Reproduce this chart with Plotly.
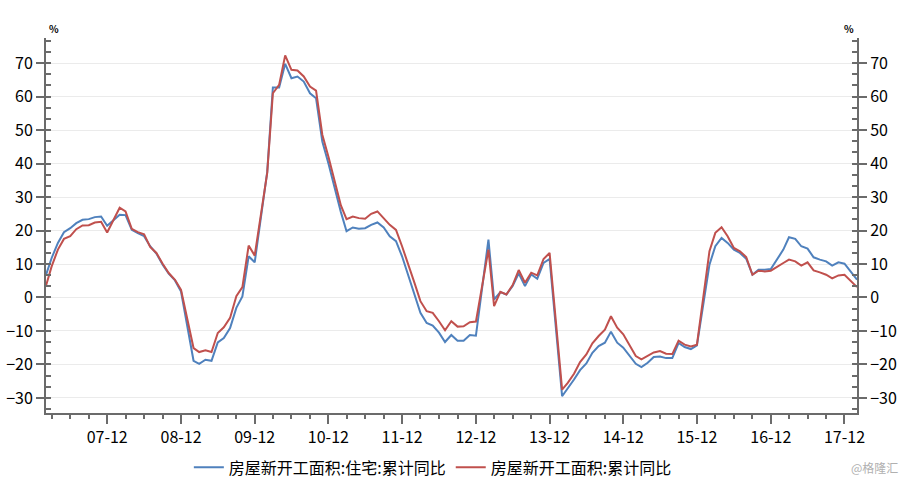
import plotly.graph_objects as go

# Monthly observations (Jan-Feb reported together -> no January point)
dates = [f"{y}-{m:02d}-01" for y in range(2007, 2018) for m in range(2, 13)] + ["2018-02-01"]

residential = [
    6.7, 11.8, 16.3, 19.5, 20.7, 22.2, 23.2, 23.4, 24.0, 24.2, 21.4,        # 2007
    24.7, 24.6, 20.2, 19.2, 18.3, 15.3, 13.1, 9.8, 7.1, 5.1, 1.8,            # 2008
    -18.9, -19.8, -18.6, -18.9, -13.4, -12.1, -9.1, -3.1, 0.3, 12.3, 10.5,   # 2009
    37.5, 62.7, 62.7, 69.8, 65.5, 66.0, 64.5, 61.0, 59.5, 46.6, 40.1,        # 2010
    25.5, 19.8, 20.9, 20.5, 20.7, 21.7, 22.4, 20.9, 18.3, 16.8, 12.3,        # 2011
    0.3, -4.6, -7.6, -8.4, -10.5, -13.3, -11.2, -12.9, -12.9, -11.2, -11.4,  # 2012
    17.3, -0.6, 1.6, 0.9, 3.4, 7.2, 3.4, 6.9, 5.6, 10.3, 11.5,               # 2013
    -29.5, -27.3, -24.5, -21.7, -19.7, -16.5, -14.5, -13.5, -10.2, -13.5, -15.0,  # 2014
    -19.8, -20.8, -19.5, -17.8, -17.6, -18.1, -18.1, -13.6, -14.8, -15.4, -14.3,  # 2015
    9.8, 15.3, 17.8, 16.3, 14.3, 13.3, 11.6, 6.8, 8.3, 8.3, 8.5,              # 2016
    14.3, 18.0, 17.5, 15.3, 14.6, 12.0, 11.3, 10.8, 9.5, 10.5, 10.1,          # 2017
    5.3,                                                                      # 2018
]

total = [
    3.5, 9.3, 14.3, 17.5, 18.3, 20.4, 21.5, 21.6, 22.4, 22.6, 19.4,          # 2007
    26.8, 25.7, 20.5, 19.5, 18.9, 15.1, 13.3, 10.1, 7.3, 5.3, 2.3,           # 2008
    -15.1, -16.3, -15.8, -16.3, -10.6, -8.9, -6.1, 0.4, 3.1, 15.5, 12.5,     # 2009
    37.2, 61.0, 63.5, 72.3, 68.0, 67.8, 66.0, 63.0, 61.8, 48.6, 42.1,        # 2010
    27.5, 23.4, 24.2, 23.7, 23.5, 25.0, 25.7, 23.7, 21.7, 20.2, 15.3,        # 2011
    4.3, -1.1, -4.1, -4.6, -7.1, -9.8, -7.1, -8.7, -8.6, -7.4, -7.2,         # 2012
    14.3, -2.6, 1.7, 0.9, 3.7, 8.2, 4.4, 7.4, 6.6, 11.5, 13.3,               # 2013
    -27.5, -25.5, -22.8, -19.3, -17.0, -13.7, -11.5, -9.6, -5.6, -9.0, -11.0,  # 2014
    -17.5, -18.5, -17.3, -16.4, -16.0, -16.8, -16.9, -12.9, -14.1, -14.6, -14.1,  # 2015
    13.8, 19.3, 21.0, 18.3, 14.8, 13.8, 12.1, 6.8, 8.0, 7.8, 8.0,            # 2016
    10.3, 11.3, 10.8, 9.5, 10.5, 8.1, 7.5, 6.8, 5.7, 6.6, 6.8,               # 2017
    3.1,                                                                      # 2018
]

series_names = ["房屋新开工面积:住宅:累计同比", "房屋新开工面积:累计同比"]
series_colors = ["#4f81bd", "#c0504d"]

major_tick_dates = [f"{y}-12-01" for y in range(2007, 2018)]
major_tick_labels = ["07-12", "08-12", "09-12", "10-12", "11-12", "12-12",
                     "13-12", "14-12", "15-12", "16-12", "17-12"]
minor_tick_dates = [f"{y}-{m:02d}-01" for y in range(2007, 2018) for m in (3, 6, 9)]

y_range = [-34.5, 77.5]
font_family = "Noto Sans CJK SC, Microsoft YaHei, sans-serif"
axis_color = "#6b6b6b"

fig = go.Figure()
for vals, name, col in zip([residential, total], series_names, series_colors):
    fig.add_trace(go.Scatter(x=dates, y=vals, mode="lines", name=name,
                             line=dict(color=col, width=2), hoverinfo="skip"))
# dummy trace to materialise the right-hand axis
fig.add_trace(go.Scatter(x=[dates[0]], y=[None], yaxis="y2", showlegend=False,
                         hoverinfo="skip", mode="lines"))

yaxis_common = dict(
    range=y_range, tickmode="linear", tick0=0, dtick=10,
    showline=True, linecolor=axis_color, linewidth=2,
    ticks="outside", ticklen=8, tickwidth=2, tickcolor=axis_color,
    tickfont=dict(size=16, color="#000000", family=font_family),
    minor=dict(tickmode="linear", tick0=0, dtick=10 / 3, ticks="inside",
               ticklen=5, tickwidth=2, tickcolor=axis_color, showgrid=False),
    zeroline=False, fixedrange=True, automargin=False,
)

fig.update_layout(
    width=906, height=485,
    margin=dict(l=46, r=49, t=38, b=72, autoexpand=False),
    plot_bgcolor="white", paper_bgcolor="white",
    font=dict(family=font_family, size=15, color="#000000"),
    xaxis=dict(
        type="date", range=[dates[0], dates[-1]],
        tickmode="array", tickvals=major_tick_dates, ticktext=major_tick_labels,
        ticks="outside", ticklen=9, tickwidth=2, tickcolor=axis_color,
        showline=True, linecolor=axis_color, linewidth=2,
        showgrid=False, zeroline=False, automargin=False,
        tickfont=dict(size=16, color="#000000", family=font_family),
        minor=dict(tickmode="array", tickvals=minor_tick_dates, ticks="outside",
                   ticklen=4, tickwidth=2, tickcolor=axis_color, showgrid=False),
        fixedrange=True,
    ),
    yaxis=dict(**yaxis_common, side="left", showgrid=True,
               gridcolor="#ebebeb", gridwidth=1),
    yaxis2=dict(**yaxis_common, side="right", overlaying="y", showgrid=False,
                anchor="x"),
    legend=dict(orientation="h", x=0.477, xanchor="center", y=-0.145,
                yanchor="middle", font=dict(size=16, family=font_family),
                itemwidth=30, tracegroupgap=0, bgcolor="rgba(0,0,0,0)"),
    showlegend=True,
)

fig.add_annotation(xref="paper", yref="paper", x=0, y=1, xshift=1,
                   xanchor="left", yanchor="bottom", text="<b>%</b>",
                   showarrow=False, font=dict(size=10, color="#000000"))
fig.add_annotation(xref="paper", yref="paper", x=1, y=1, xshift=-1,
                   xanchor="right", yanchor="bottom", text="<b>%</b>",
                   showarrow=False, font=dict(size=10, color="#000000"))
fig.add_annotation(xref="paper", yref="paper", x=1, y=-0.145, xshift=43,
                   xanchor="right", yanchor="middle", text="@格隆汇",
                   showarrow=False, font=dict(size=12, color="#b0b0b0"))

fig.write_html("out.html", config={"displayModeBar": False},
               post_script="document.body.style.margin='0';document.body.style.padding='0';")
